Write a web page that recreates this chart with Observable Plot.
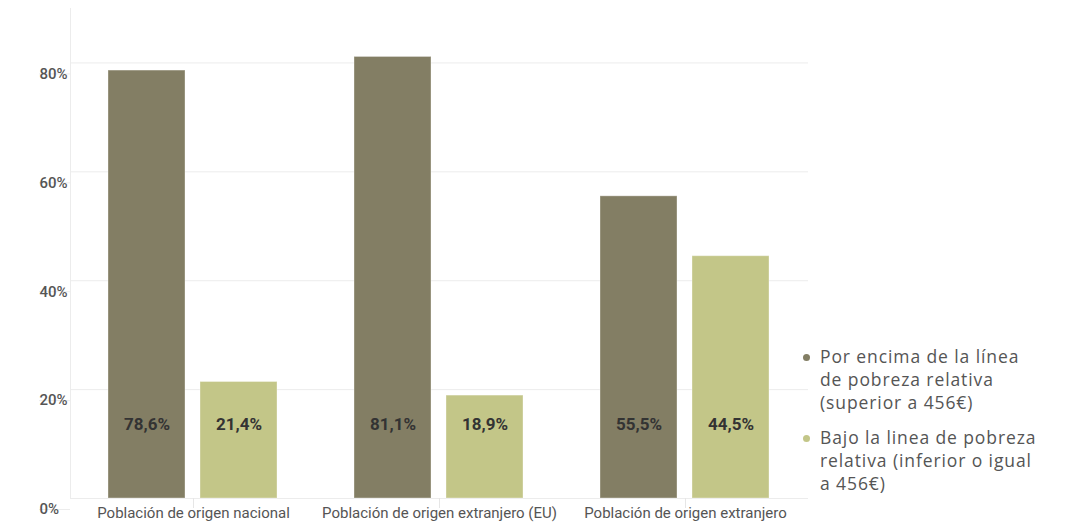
<!DOCTYPE html>
<html>
<head>
<meta charset="utf-8">
<script src="https://cdn.jsdelivr.net/npm/d3@7"></script>
<script src="https://cdn.jsdelivr.net/npm/@observablehq/plot@0.6"></script>
<style>
  body { margin: 0; background: #fff; }
  #wrap { position: relative; width: 1081px; height: 526px; }
  #legend { position: absolute; left: 801px; top: 345px; font-family: "Open Sans", sans-serif; font-size: 17.5px; letter-spacing: 0.9px; color: #555; line-height: 23px; }
  .item { position: relative; padding-left: 19px; margin-bottom: 12px; }
  .dot { position: absolute; left: 2px; top: 9px; width: 7px; height: 7px; border-radius: 50%; }
</style>
</head>
<body>
<div id="wrap"><div id="chart"></div><div id="legend"></div></div>
<script>
const categories = ["Población de origen nacional", "Población de origen extranjero (EU)", "Población de origen extranjero"];
const seriesNames = ["Por encima de la línea de pobreza relativa (superior a 456€)", "Bajo la linea de pobreza relativa (inferior o igual a 456€)"];
const legendLines = [["Por encima de la línea", "de pobreza relativa", "(superior a 456€)"], ["Bajo la linea de pobreza", "relativa (inferior o igual", "a 456€)"]];
const aboveValues = [78.6, 81.1, 55.5];
const belowValues = [21.4, 18.9, 44.5];
const yTicks = [0, 20, 40, 60, 80];
const colors = ["#837e64", "#c3c688"];

const data = [];
categories.forEach((c, i) => {
  data.push({category: c, series: seriesNames[0], value: aboveValues[i]});
  data.push({category: c, series: seriesNames[1], value: belowValues[i]});
});

const fmt = v => v.toFixed(1).replace(".", ",") + "%";

const plot = Plot.plot({
  width: 1081,
  height: 526,
  marginLeft: 69,
  marginRight: 273,
  marginTop: 8,
  marginBottom: 28,
  style: {fontFamily: "Roboto, sans-serif", background: "#fff"},
  fx: {domain: categories, padding: 0, axis: null},
  x: {domain: seriesNames, paddingInner: 0.16, paddingOuter: 0.41, axis: null},
  y: {domain: [0, 90], axis: null},
  color: {domain: seriesNames, range: colors},
  marks: [
    Plot.gridY(yTicks, {stroke: "#ececec", strokeOpacity: 1}),
    Plot.frame({anchor: "left", stroke: "#ececec", facetAnchor: "left"}),
    Plot.axisY(yTicks, {anchor: "left", tickSize: 31, tickPadding: 0, textAnchor: "start", dy: 11,
      tickFormat: d => d + "%", stroke: "#ececec", fill: "#555", fontSize: 15, fontWeight: 500, label: null}),
    Plot.axisFx({anchor: "bottom", tickSize: 10, tickPadding: -1, stroke: "#e6e6e6", fill: "#555", fontSize: 15, label: null}),
    Plot.barY(data, {fx: "category", x: "series", y: "value", fill: "series", stroke: "#ffffff", strokeOpacity: 0.35, strokeWidth: 1}),
    Plot.text(data, {fx: "category", x: "series", text: d => fmt(d.value), frameAnchor: "bottom", dy: -69,
      fill: "#333", fontSize: 17, fontWeight: "bold"})
  ]
});
document.getElementById("chart").appendChild(plot);

const legend = document.getElementById("legend");
legendLines.forEach((lines, i) => {
  const item = document.createElement("div");
  item.className = "item";
  const dot = document.createElement("span");
  dot.className = "dot";
  dot.style.background = colors[i];
  item.appendChild(dot);
  lines.forEach(l => { const d = document.createElement("div"); d.textContent = l; item.appendChild(d); });
  legend.appendChild(item);
});
</script>
</body>
</html>
